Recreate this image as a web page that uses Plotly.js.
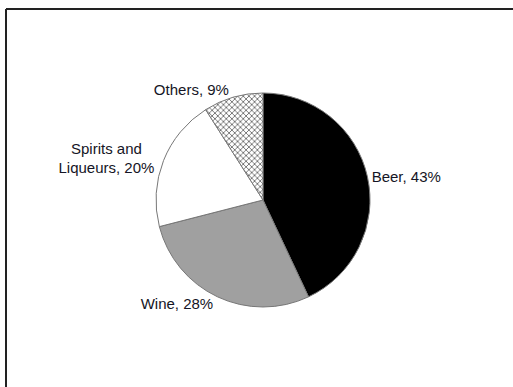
<!DOCTYPE html>
<html>
<head>
<meta charset="utf-8">
<script src="https://cdn.plot.ly/plotly-3.0.1.min.js"></script>
<style>
  html, body { margin: 0; padding: 0; background: #fff; }
  #chart { width: 513px; height: 387px; }
</style>
</head>
<body>
<div id="chart"></div>
<script>
const categories = ["Beer", "Wine", "Spirits and<br>Liqueurs", "Others"];
const shares = [43, 28, 20, 9];
const sliceColors = ["#000000", "#a0a0a0", "#ffffff", "#ffffff"];
const slicePatterns = ["", "", "", "x"];

const trace = {
  type: "pie",
  labels: categories,
  values: shares,
  sort: false,
  direction: "clockwise",
  rotation: 0,
  textposition: "outside",
  texttemplate: "%{label}, %{percent:.0%}",
  textfont: { family: "Liberation Sans, Arial, sans-serif", size: 15, color: "#151525" },
  outsidetextfont: { family: "Liberation Sans, Arial, sans-serif", size: 15, color: "#151525" },
  marker: {
    colors: sliceColors,
    line: { color: "#777777", width: 1 },
    pattern: { shape: slicePatterns, fgcolor: "#555555", bgcolor: "#ffffff", size: 4, solidity: 0.35 }
  },
  hoverinfo: "none",
  domain: { x: [156 / 513, 370 / 513], y: [80 / 387, 294 / 387] }
};

const layout = {
  width: 513,
  height: 387,
  margin: { l: 0, r: 0, t: 0, b: 0 },
  showlegend: false,
  paper_bgcolor: "#ffffff",
  plot_bgcolor: "#ffffff",
  shapes: [
    { type: "line", xref: "paper", yref: "paper", x0: 6 / 513, x1: 1.01, y0: 1 - 9 / 387, y1: 1 - 9 / 387, line: { color: "#222222", width: 2 } },
    { type: "line", xref: "paper", yref: "paper", x0: 6 / 513, x1: 6 / 513, y0: 1 - 9 / 387, y1: -0.01, line: { color: "#222222", width: 2 } }
  ]
};

Plotly.newPlot("chart", [trace], layout, { staticPlot: true, displayModeBar: false });
</script>
</body>
</html>
